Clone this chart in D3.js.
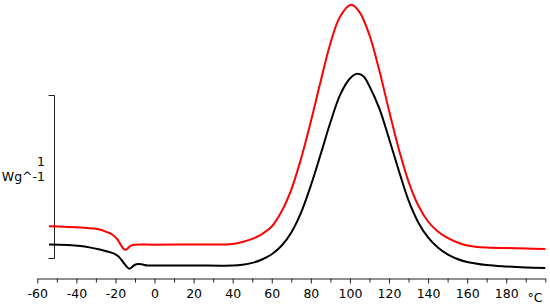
<!DOCTYPE html>
<html>
<head>
<meta charset="utf-8">
<script src="https://cdn.jsdelivr.net/npm/d3@7"></script>
<style>
  body { margin: 0; background: #fff; }
  svg { display: block; }
  text { font-family: "DejaVu Sans", sans-serif; }
</style>
</head>
<body>
<div id="chart"></div>
<script>
// layout
var total_width = 550,
    total_height = 308;

// data (temperature in °C, heat flow in W/g, arbitrary offset)
var black_temp = [-54, -38, -28, -21, -18.4, -15.9, -14.3, -13, -11.8, -10.2, -8.2, -6.1, -3.6, 0, 20, 40,
    45, 50, 55, 60, 65, 70, 75, 80, 85, 90, 95, 100, 103.7, 107, 110, 115, 120, 125, 130, 135, 140,
    145, 150, 155, 160, 170, 180, 190, 200]
var black_flow = [0.086, 0.077, 0.055, 0.031, 0.012, -0.025, -0.049, -0.063, -0.055, -0.040, -0.034, -0.037, -0.043, -0.043, -0.043, -0.043,
    -0.038, -0.027, -0.006, 0.026, 0.078, 0.160, 0.282, 0.448, 0.638, 0.834, 1.004, 1.104, 1.133, 1.117, 1.057, 0.922, 0.736, 0.540, 0.356, 0.221, 0.129,
    0.067, 0.025, -0.003, -0.021, -0.040, -0.049, -0.055, -0.058]

var red_temp = [-54, -38, -28, -24, -22.5, -21, -19, -17.4, -16, -14.8, -13.8, -12.3, -10.7, 0, 20, 35,
    40, 45, 50, 55, 60, 65, 70, 75, 80, 85, 90, 95, 100.7, 105, 110, 115, 120, 125, 130, 135, 140,
    145, 150, 155, 160, 170, 180, 190, 200]
var red_flow = [0.198, 0.190, 0.178, 0.160, 0.153, 0.141, 0.117, 0.086, 0.061, 0.053, 0.061, 0.077, 0.084, 0.085, 0.086, 0.086,
    0.089, 0.101, 0.120, 0.150, 0.196, 0.288, 0.423, 0.613, 0.840, 1.086, 1.319, 1.485, 1.556, 1.510, 1.370, 1.156, 0.908, 0.672, 0.472, 0.325, 0.227,
    0.166, 0.126, 0.098, 0.080, 0.067, 0.064, 0.061, 0.058]

var x_domain = [-60, 200]
var x_major = [-60, -40, -20, 0, 20, 40, 60, 80, 100, 120, 140, 160, 180]
var x_minor = [-50, -30, -10, 10, 30, 50, 70, 90, 110, 130, 150, 170, 190, 200]
var x_unit = "°C"
var scale_bar = [0, 1]          // the bracket spans 1 W/g
var y_labels = ["1", "Wg^-1"]

var svg = d3.select("#chart").append("svg")
    .attr("width", total_width)
    .attr("height", total_height)

var x = d3.scaleLinear().domain(x_domain).range([37.3, 545.3])
var y = d3.scaleLinear().domain(scale_bar).range([258.5, 95.5])

// x axis: minor ticks first, then labelled major ticks
var axis_y = 278.5
svg.append("g")
    .attr("transform", "translate(0," + axis_y + ")")
    .call(d3.axisBottom(x).tickValues(x_minor).tickSize(4).tickSizeOuter(0).tickFormat(""))
    .call(g => g.select(".domain").remove())
    .call(g => g.selectAll("line").attr("stroke", "#222"))

svg.append("g")
    .attr("transform", "translate(0," + axis_y + ")")
    .call(d3.axisBottom(x).tickValues(x_major).tickSize(5).tickSizeOuter(0).tickPadding(6)
        .tickFormat(d => String(d)))
    .call(g => g.select(".domain").attr("stroke", "#222"))
    .call(g => g.selectAll("line").attr("stroke", "#222"))
    .call(g => g.selectAll("text")
        .style("font-family", "DejaVu Sans, sans-serif")
        .style("font-size", "12.5px")
        .attr("fill", "#000"))

svg.append("text")
    .attr("x", 535)
    .attr("y", axis_y + 23)
    .attr("text-anchor", "middle")
    .style("font-size", "12.5px")
    .text(x_unit)

// y scale bar (bracket)
var bx = 54.5
svg.append("path")
    .attr("d", "M" + (bx - 6) + "," + y(scale_bar[1]) + "H" + bx + "V" + y(scale_bar[0]) + "H" + (bx - 6))
    .attr("fill", "none")
    .attr("stroke", "#222")
    .attr("stroke-width", 1)

svg.append("g").selectAll("text")
    .data(y_labels)
    .enter()
    .append("text")
    .attr("x", 45)
    .attr("y", (d, i) => 166 + i * 15)
    .attr("text-anchor", "end")
    .style("font-size", "12.5px")
    .text(d => d)

// curves
var line = d3.line()
    .x(d => x(d[0]))
    .y(d => y(d[1]))
    .curve(d3.curveCatmullRom.alpha(0.5))

var series = [
    {color: "#ff0000", data: d3.zip(red_temp, red_flow)},
    {color: "#000000", data: d3.zip(black_temp, black_flow)}
]

svg.append("g")
    .selectAll("path")
    .data(series)
    .enter()
    .append("path")
    .attr("d", d => line(d.data))
    .attr("fill", "none")
    .attr("stroke", d => d.color)
    .attr("stroke-width", 2)
</script>
</body>
</html>
